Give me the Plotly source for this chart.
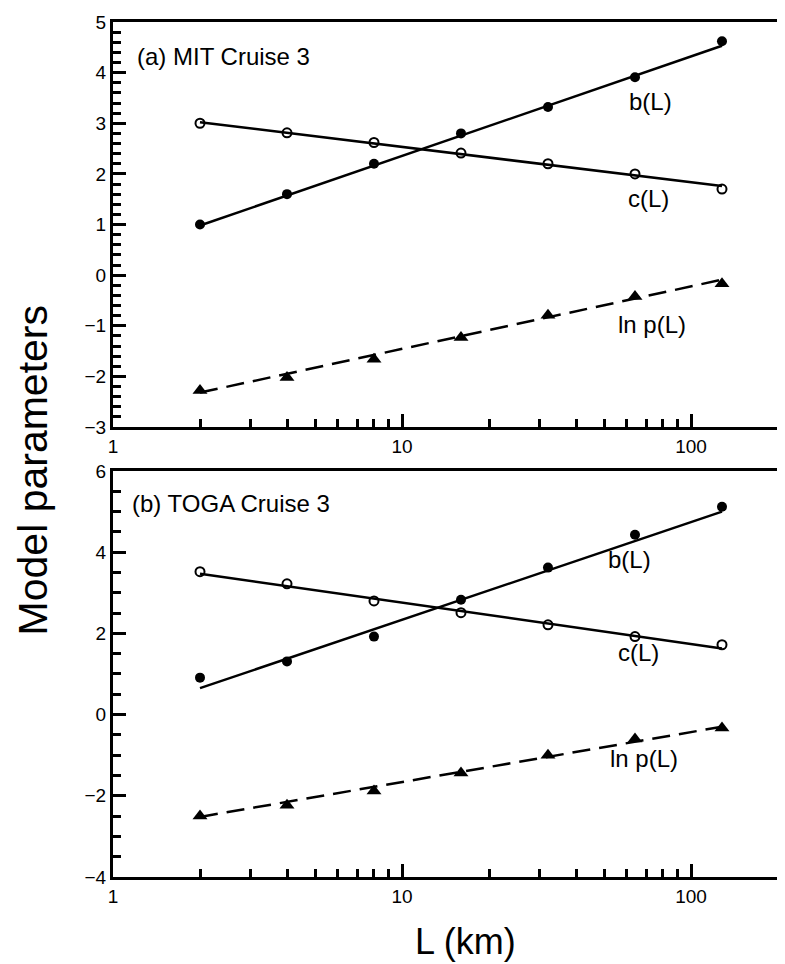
import plotly.graph_objects as go

# Scales L (km)
L = [2, 4, 8, 16, 32, 64, 128]
L_fit = [2, 128]

# (a) MIT Cruise 3
mit_b = [1.0, 1.6, 2.2, 2.8, 3.32, 3.91, 4.62]
mit_c = [3.0, 2.81, 2.62, 2.41, 2.2, 2.0, 1.70]
mit_lnp = [-2.28, -2.02, -1.66, -1.23, -0.79, -0.42, -0.17]
mit_b_fit = [0.98, 4.53]
mit_c_fit = [3.02, 1.76]
mit_lnp_fit = [-2.32, -0.09]

# (b) TOGA Cruise 3
toga_b = [0.91, 1.31, 1.92, 2.83, 3.62, 4.43, 5.12]
toga_c = [3.52, 3.22, 2.8, 2.51, 2.21, 1.92, 1.72]
toga_lnp = [-2.5, -2.23, -1.88, -1.44, -1.0, -0.6, -0.33]
toga_b_fit = [0.65, 5.0]
toga_c_fit = [3.47, 1.63]
toga_lnp_fit = [-2.52, -0.3]

FONT = "Liberation Sans, Arial, Helvetica, sans-serif"
BLACK = "black"

fig = go.Figure()

def add_panel(xa, ya, b, c, lnp, bfit, cfit, lnpfit):
    fig.add_trace(go.Scatter(x=L_fit, y=bfit, mode="lines", xaxis=xa, yaxis=ya,
                             line=dict(color=BLACK, width=2.5), showlegend=False))
    fig.add_trace(go.Scatter(x=L_fit, y=cfit, mode="lines", xaxis=xa, yaxis=ya,
                             line=dict(color=BLACK, width=2.5), showlegend=False))
    fig.add_trace(go.Scatter(x=L_fit, y=lnpfit, mode="lines", xaxis=xa, yaxis=ya,
                             line=dict(color=BLACK, width=2.5, dash="18px,9px"), showlegend=False))
    fig.add_trace(go.Scatter(x=L, y=b, mode="markers", xaxis=xa, yaxis=ya,
                             marker=dict(symbol="circle", size=10, color=BLACK), showlegend=False))
    fig.add_trace(go.Scatter(x=L, y=c, mode="markers", xaxis=xa, yaxis=ya,
                             marker=dict(symbol="circle-open", size=9, color=BLACK,
                                         line=dict(width=2, color=BLACK)), showlegend=False))
    fig.add_trace(go.Scatter(x=L, y=lnp, mode="markers", xaxis=xa, yaxis=ya,
                             marker=dict(symbol="triangle-up", size=13, color=BLACK), showlegend=False))

add_panel("x", "y", mit_b, mit_c, mit_lnp, mit_b_fit, mit_c_fit, mit_lnp_fit)
add_panel("x2", "y2", toga_b, toga_c, toga_lnp, toga_b_fit, toga_c_fit, toga_lnp_fit)

XR = [0, 2.30103]
tickfont = dict(family=FONT, size=19, color=BLACK)

def xaxis_cfg(anchor, main=True, overlay=None):
    d = dict(type="log", range=XR, tickmode="linear", tick0=0, dtick=1,
             ticks="inside", ticklen=13, tickwidth=3, tickcolor=BLACK,
             showgrid=False, zeroline=False, exponentformat="none",
             tickfont=tickfont, anchor=anchor,
             minor=dict(dtick="D1", ticks="inside", ticklen=8, tickwidth=3, tickcolor=BLACK, showgrid=False))
    if main:
        d.update(showline=True, linewidth=3, linecolor=BLACK, mirror=True, domain=[0, 1])
    else:
        d.update(showline=False, showticklabels=False, overlaying=overlay, side="top")
    return d

def yaxis_cfg(anchor, rng, dt, mdt, main=True, overlay=None, domain=None):
    d = dict(range=rng, tickmode="linear", tick0=0, dtick=dt,
             ticks="inside", ticklen=13, tickwidth=3, tickcolor=BLACK,
             showgrid=False, zeroline=False, tickfont=tickfont, anchor=anchor,
             minor=dict(dtick=mdt, ticks="inside", ticklen=8, tickwidth=3, tickcolor=BLACK, showgrid=False))
    if main:
        d.update(showline=True, linewidth=3, linecolor=BLACK, mirror=True, domain=domain)
    else:
        d.update(showline=False, showticklabels=False, overlaying=overlay, side="right")
    return d

top_dom = [0.5263, 1.0]
bot_dom = [0.0, 0.4749]

fig.update_layout(
    width=777, height=956,
    margin=dict(l=105, r=4, t=12, b=87),
    paper_bgcolor="white", plot_bgcolor="white",
    font=dict(family=FONT, color=BLACK),
    xaxis=xaxis_cfg("y"),
    yaxis=yaxis_cfg("x", [-3, 5], 1, 0.2, domain=top_dom),
    xaxis2=xaxis_cfg("y2"),
    yaxis2=yaxis_cfg("x2", [-4, 6], 2, 0.5, domain=bot_dom),
    # overlay axes that carry the mirrored (top / right) ticks
    xaxis3=xaxis_cfg("y", main=False, overlay="x"),
    yaxis3=yaxis_cfg("x", [-3, 5], 1, 0.2, main=False, overlay="y"),
    xaxis4=xaxis_cfg("y2", main=False, overlay="x2"),
    yaxis4=yaxis_cfg("x2", [-4, 6], 2, 0.5, main=False, overlay="y2"),
)

ann_font = dict(family=FONT, size=24, color=BLACK)
# annotation x positions on log axes are given as log10(L)
annotations = [
    dict(text="(a) MIT Cruise 3", x=0.076, y=4.31, xref="x", yref="y", xanchor="left", yanchor="middle",
         showarrow=False, font=ann_font),
    dict(text="b(L)", x=1.859, y=3.42, xref="x", yref="y", showarrow=False, font=ann_font),
    dict(text="c(L)", x=1.852, y=1.51, xref="x", yref="y", showarrow=False, font=ann_font),
    dict(text="ln p(L)", x=1.866, y=-0.98, xref="x", yref="y", showarrow=False, font=ann_font),
    dict(text="(b) TOGA Cruise 3", x=0.059, y=5.19, xref="x2", yref="y2", xanchor="left", yanchor="middle",
         showarrow=False, font=ann_font),
    dict(text="b(L)", x=1.786, y=3.81, xref="x2", yref="y2", showarrow=False, font=ann_font),
    dict(text="c(L)", x=1.817, y=1.53, xref="x2", yref="y2", showarrow=False, font=ann_font),
    dict(text="ln p(L)", x=1.838, y=-1.08, xref="x2", yref="y2", showarrow=False, font=ann_font),
    dict(text="Model parameters", x=-0.121, y=0.475, xref="paper", yref="paper", textangle=-90,
         xanchor="center", yanchor="middle",
         showarrow=False, font=dict(family=FONT, size=41, color=BLACK)),
    dict(text="L (km)", x=0.53, y=-0.0758, xref="paper", yref="paper", xanchor="center", yanchor="middle",
         showarrow=False, font=dict(family=FONT, size=36, color=BLACK)),
]
fig.update_layout(annotations=annotations)

fig.write_html("out.html")
